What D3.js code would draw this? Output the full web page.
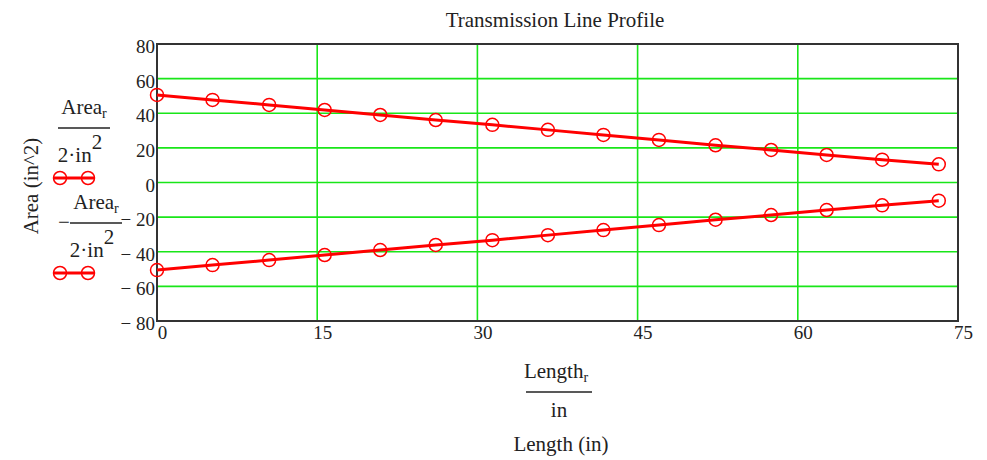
<!DOCTYPE html>
<html>
<head>
<meta charset="utf-8">
<script src="https://cdn.jsdelivr.net/npm/d3@7"></script>
<style>
  body { margin: 0; background: #fff; }
  text { font-family: "Liberation Serif", "DejaVu Serif", serif; fill: #222; }
</style>
</head>
<body>
<main></main>
<script>
// data
const lengthIn = [0, 5.2, 10.5, 15.7, 20.9, 26.1, 31.4, 36.6, 41.8, 47.0, 52.3, 57.5, 62.7, 67.9, 73.2]
const areaTop = [50.6, 47.7, 44.8, 41.9, 39.0, 36.1, 33.3, 30.4, 27.5, 24.6, 21.5, 18.8, 15.9, 13.2, 10.5]
const areaBottom = [-50.6, -47.7, -44.8, -41.9, -39.0, -36.1, -33.3, -30.4, -27.5, -24.6, -21.5, -18.8, -15.9, -13.2, -10.5]
const xTicks = [0, 15, 30, 45, 60, 75]
const yTicks = [80, 60, 40, 20, 0, -20, -40, -60, -80]

const size = { width: 987, height: 460 }
const plot = { left: 157, right: 958, top: 44, bottom: 321 }

const svg = d3.select('main')
    .append('svg')
    .attr('width', size.width)
    .attr('height', size.height)

const x = d3.scaleLinear().domain([0, 75]).range([plot.left, plot.right])
const y = d3.scaleLinear().domain([-80, 80]).range([plot.bottom, plot.top])

const green = '#19e619'
const red = '#ff0000'
const tickFont = 19
const labelFont = 21

// grid
svg.append('g')
    .selectAll('line')
    .data(yTicks.filter(d => d > -80 && d < 80))
    .enter()
    .append('line')
    .attr('x1', plot.left).attr('x2', plot.right)
    .attr('y1', d => y(d)).attr('y2', d => y(d))
    .attr('stroke', green).attr('stroke-width', 1.6)

svg.append('g')
    .selectAll('line')
    .data(xTicks.filter(d => d > 0 && d < 75))
    .enter()
    .append('line')
    .attr('y1', plot.top).attr('y2', plot.bottom)
    .attr('x1', d => x(d)).attr('x2', d => x(d))
    .attr('stroke', green).attr('stroke-width', 1.6)

// frame
svg.append('rect')
    .attr('x', plot.left).attr('y', plot.top)
    .attr('width', plot.right - plot.left)
    .attr('height', plot.bottom - plot.top)
    .attr('fill', 'none')
    .attr('stroke', '#333')
    .attr('stroke-width', 2)

// tick labels via axes, domain and ticks hidden
const fmt = d => d < 0 ? '\u2212 ' + Math.abs(d) : String(d)

const yAxis = svg.append('g')
    .attr('transform', 'translate(' + (plot.left - 2) + ',0)')
    .call(d3.axisLeft(y).tickValues(yTicks).tickSize(0).tickPadding(0).tickFormat(fmt))
yAxis.select('.domain').remove()
yAxis.selectAll('text')
    .attr('font-size', tickFont)
    .attr('font-family', '"Liberation Serif", serif')
    .attr('fill', '#222')
    .attr('dy', '0.45em')

const xAxis = svg.append('g')
    .attr('transform', 'translate(0,' + plot.bottom + ')')
    .call(d3.axisBottom(x).tickValues(xTicks).tickSize(0).tickPadding(0).tickFormat(d => d))
xAxis.select('.domain').remove()
xAxis.selectAll('text')
    .attr('font-size', tickFont)
    .attr('font-family', '"Liberation Serif", serif')
    .attr('fill', '#222')
    .attr('dx', 5)
    .attr('dy', '0.95em')

// series
const line = d3.line().x(d => x(d[0])).y(d => y(d[1]))
const drawSeries = (vals) => {
    const pts = lengthIn.map((l, i) => [l, vals[i]])
    svg.append('path')
        .datum(pts)
        .attr('d', line)
        .attr('fill', 'none')
        .attr('stroke', red)
        .attr('stroke-width', 3)
    svg.append('g')
        .selectAll('circle')
        .data(pts)
        .enter()
        .append('circle')
        .attr('cx', d => x(d[0]))
        .attr('cy', d => y(d[1]))
        .attr('r', 6.5)
        .attr('fill', 'none')
        .attr('stroke', red)
        .attr('stroke-width', 1.5)
}
drawSeries(areaTop)
drawSeries(areaBottom)

// title
svg.append('text')
    .attr('x', 555).attr('y', 27)
    .attr('text-anchor', 'middle')
    .attr('font-size', labelFont)
    .text('Transmission Line Profile')

// y axis title
svg.append('text')
    .attr('transform', 'translate(38,186) rotate(-90)')
    .attr('text-anchor', 'middle')
    .attr('font-size', labelFont)
    .text('Area (in^2)')

// legend entries (Mathcad style fractions)
const frac = (cx, top, neg) => {
    const g = svg.append('g').attr('font-size', labelFont)
    const num = g.append('text').attr('x', cx).attr('y', top).attr('text-anchor', 'middle')
    num.append('tspan').text('Area')
    num.append('tspan').attr('font-size', 14).attr('dy', 4).text('r')
    g.append('line')
        .attr('x1', cx - 26).attr('x2', cx + 26)
        .attr('y1', top + 14).attr('y2', top + 14)
        .attr('stroke', '#222').attr('stroke-width', 1.5)
    const den = g.append('text').attr('x', cx - 4).attr('y', top + 48).attr('text-anchor', 'middle')
    den.append('tspan').text('2\u00b7in')
    den.append('tspan').attr('dy', -13).text('2')
    if (neg) {
        g.append('text').attr('x', cx - 38).attr('y', top + 20).text('\u2212')
    }
}
frac(84, 114, false)
frac(96, 209, true)

const legendMarker = (yy) => {
    svg.append('line')
        .attr('x1', 53).attr('x2', 95)
        .attr('y1', yy).attr('y2', yy)
        .attr('stroke', red).attr('stroke-width', 3)
    svg.append('g')
        .selectAll('circle')
        .data([60, 88])
        .enter()
        .append('circle')
        .attr('cx', d => d).attr('cy', yy).attr('r', 6.5)
        .attr('fill', 'none').attr('stroke', red).attr('stroke-width', 1.5)
}
legendMarker(178)
legendMarker(273)

// x axis titles
const lx = svg.append('text').attr('x', 556).attr('y', 378).attr('text-anchor', 'middle').attr('font-size', labelFont)
lx.append('tspan').text('Length')
lx.append('tspan').attr('font-size', 14).attr('dy', 4).text('r')
svg.append('line')
    .attr('x1', 526).attr('x2', 592)
    .attr('y1', 392).attr('y2', 392)
    .attr('stroke', '#222').attr('stroke-width', 1.5)
svg.append('text').attr('x', 559).attr('y', 417).attr('text-anchor', 'middle').attr('font-size', labelFont).text('in')
svg.append('text').attr('x', 561).attr('y', 451).attr('text-anchor', 'middle').attr('font-size', labelFont).text('Length (in)')
</script>
</body>
</html>
